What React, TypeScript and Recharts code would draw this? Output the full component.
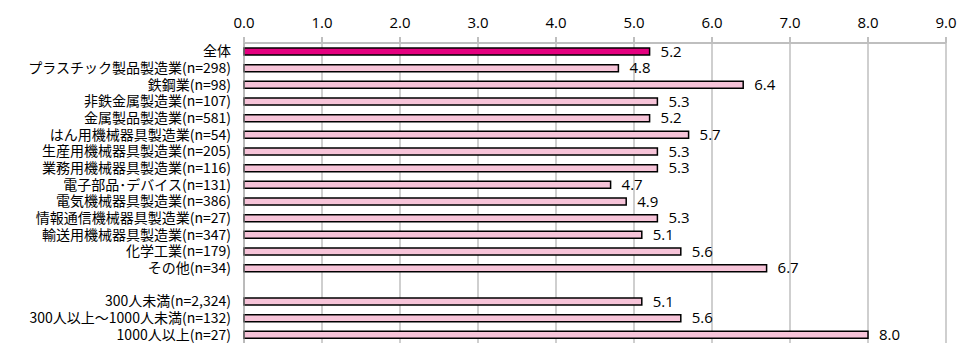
import { Bar, BarChart, CartesianGrid, Cell, LabelList, XAxis, YAxis } from "recharts";

// 業種別・規模別の平均値（空行で区切り）
const categories = [
  "全体",
  "プラスチック製品製造業(n=298)",
  "鉄鋼業(n=98)",
  "非鉄金属製造業(n=107)",
  "金属製品製造業(n=581)",
  "はん用機械器具製造業(n=54)",
  "生産用機械器具製造業(n=205)",
  "業務用機械器具製造業(n=116)",
  "電子部品･デバイス(n=131)",
  "電気機械器具製造業(n=386)",
  "情報通信機械器具製造業(n=27)",
  "輸送用機械器具製造業(n=347)",
  "化学工業(n=179)",
  "その他(n=34)",
  "",
  "300人未満(n=2,324)",
  "300人以上～1000人未満(n=132)",
  "1000人以上(n=27)",
];
const values: (number | null)[] = [
  5.2, 4.8, 6.4, 5.3, 5.2, 5.7, 5.3, 5.3, 4.7, 4.9, 5.3, 5.1, 5.6, 6.7, null, 5.1, 5.6, 8.0,
];
const xTicks = [0, 1, 2, 3, 4, 5, 6, 7, 8, 9];
const boundaryTicks = Array.from({ length: categories.length + 1 }, (_, i) => i);

const TOTAL_COLOR = "#E4007F";
const BAR_COLOR = "#F6C3D8";
const GRID_COLOR = "#BFBFBF";

const data = categories.map((name, i) => ({ name, value: values[i] }));

export default function App() {
  return (
    <div style={{ position: "absolute", left: 0, top: 0, width: 957, height: 345, background: "#fff" }}>
      <BarChart
        width={957}
        height={345}
        data={data}
        layout="vertical"
        margin={{ top: 13, right: 11, bottom: 2, left: 0 }}
        barCategoryGap={0}
      >
        <CartesianGrid horizontal={false} stroke={GRID_COLOR} strokeWidth={1.5} />
        <XAxis
          type="number"
          orientation="top"
          domain={[0, 9]}
          ticks={xTicks}
          tickFormatter={(v: number) => v.toFixed(1)}
          stroke={GRID_COLOR}
          strokeWidth={2}
          tickSize={6}
          tickMargin={9}
          tick={{ fill: "#000", fontSize: 15, fontFamily: "Open Sans" }}
          interval={0}
        />
        {/* decorative axis: tick marks at the category boundaries, like the source */}
        <YAxis
          yAxisId="bounds"
          type="number"
          domain={[0, categories.length]}
          ticks={boundaryTicks}
          width={0}
          axisLine={false}
          tick={() => <g />}
          tickSize={5}
          stroke="#A6A6A6"
          interval={0}
        />
        <YAxis
          yAxisId="cat"
          type="category"
          dataKey="name"
          width={244}
          interval={0}
          tickLine={false}
          tickSize={0}
          tickMargin={13}
          stroke="#A6A6A6"
          tick={{ fill: "#000", fontSize: 14, fontFamily: "Noto Sans CJK JP" }}
        />
        <Bar
          yAxisId="cat"
          dataKey="value"
          barSize={7}
          stroke="#000"
          strokeWidth={1.5}
          isAnimationActive={false}
        >
          {data.map((d, i) => (
            <Cell key={i} fill={i === 0 ? TOTAL_COLOR : BAR_COLOR} />
          ))}
          <LabelList
            dataKey="value"
            position="right"
            offset={11}
            formatter={(v: unknown) => (typeof v === "number" ? v.toFixed(1) : "")}
            style={{ fill: "#000", fontSize: 15, fontFamily: "Open Sans" }}
          />
        </Bar>
      </BarChart>
    </div>
  );
}
